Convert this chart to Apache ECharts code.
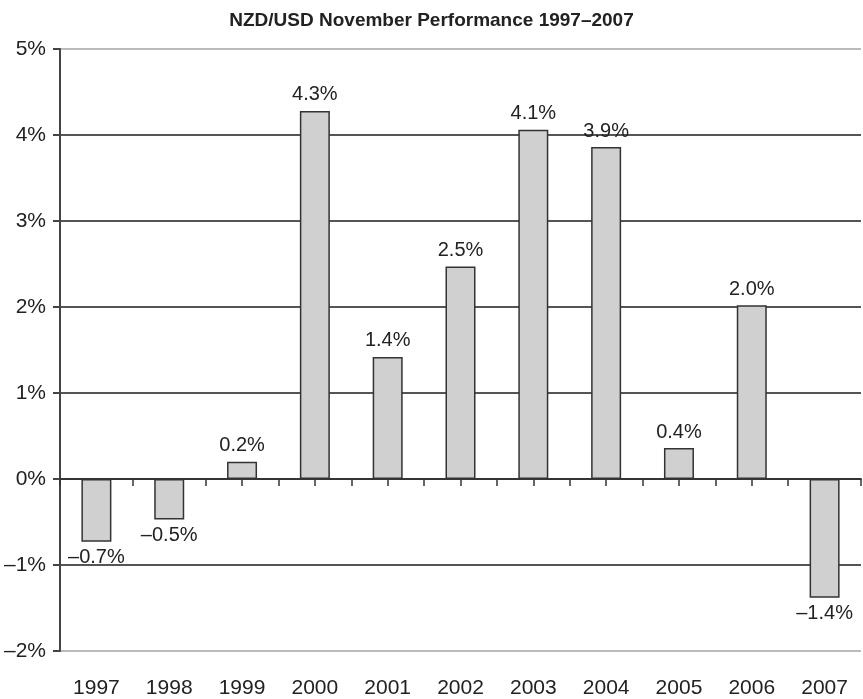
<!DOCTYPE html>
<html>
<head>
<meta charset="utf-8">
<script src="https://cdn.jsdelivr.net/npm/echarts@6/dist/echarts.min.js"></script>
<style>
  html, body { margin: 0; padding: 0; background: #fff; }
  #chart { width: 863px; height: 699px; }
</style>
</head>
<body>
<div id="chart"></div>
<script>
// 数据
var years = ['1997', '1998', '1999', '2000', '2001', '2002', '2003', '2004', '2005', '2006', '2007'];
var novPerf = [-0.73, -0.47, 0.2, 4.28, 1.42, 2.47, 4.06, 3.86, 0.36, 2.02, -1.38];
var titleText = 'NZD/USD November Performance 1997\u20132007';

var FONT = 'Liberation Sans, Arial, sans-serif';

function pct (v) {
    var s = Math.abs(v).toFixed(1) + '%';
    return v < 0 ? '\u2013' + s : s;
}

var chart = echarts.init(document.getElementById('chart'));

var barData = novPerf.map(function (v) {
    return {
        value: v,
        label: { position: v < 0 ? 'bottom' : 'top' }
    };
});

var hiddenAxisBase = {
    type: 'category',
    data: years,
    gridIndex: 0
};

var opt = {
    animation: false,
    title: {
        text: titleText,
        left: 'center',
        top: 6,
        textStyle: {
            fontFamily: FONT,
            fontWeight: 'bold',
            fontSize: 19,
            color: '#222'
        }
    },
    grid: {
        left: 60,
        right: 2,
        top: 49,
        bottom: 47
    },
    xAxis: [
        // 零线 + 分界刻度
        Object.assign({}, hiddenAxisBase, {
            position: 'bottom',
            axisLine: { onZero: true, lineStyle: { color: '#333', width: 1.5 } },
            axisTick: { show: true, interval: 0, length: 7, lineStyle: { color: '#333', width: 1.5 } },
            axisLabel: { show: false },
            splitLine: { show: false }
        }),
        // 居中刻度
        Object.assign({}, hiddenAxisBase, {
            position: 'bottom',
            axisLine: { show: true, onZero: true, onZeroAxisIndex: 0, lineStyle: { color: '#333', width: 1.5 } },
            axisTick: { show: true, interval: 0, alignWithLabel: true, length: 7, lineStyle: { color: '#333', width: 1.5 } },
            axisLabel: { show: false },
            splitLine: { show: false }
        }),
        // 底部年份标签
        Object.assign({}, hiddenAxisBase, {
            position: 'bottom',
            axisLine: { show: false, onZero: false },
            axisTick: { show: false },
            axisLabel: {
                interval: 0,
                margin: 27,
                fontSize: 21,
                color: '#222',
                fontFamily: FONT
            },
            splitLine: { show: false }
        })
    ],
    yAxis: {
        type: 'value',
        min: -2,
        max: 5,
        interval: 1,
        axisLine: { show: true, lineStyle: { color: '#444', width: 2 } },
        axisTick: { show: true, length: 7, lineStyle: { color: '#444', width: 2 } },
        axisLabel: {
            fontSize: 21,
            color: '#222',
            margin: 14,
            fontFamily: FONT,
            formatter: function (v) {
                return v < 0 ? '\u2013' + Math.abs(v) + '%' : v + '%';
            }
        },
        splitLine: {
            show: true,
            lineStyle: {
                color: ['#bbb', '#555', '#555', '#555', '#555', '#555', '#555', '#bbb'],
                width: 2
            }
        }
    },
    series: [{
        type: 'bar',
        xAxisIndex: 0,
        data: barData,
        barWidth: 30,
        itemStyle: {
            color: '#d0d0d0',
            borderColor: '#333',
            borderWidth: 1.5
        },
        label: {
            show: true,
            distance: 6,
            fontSize: 20,
            color: '#222',
            fontFamily: FONT,
            formatter: function (p) {
                return pct(p.value);
            }
        },
        z: 3
    }]
};

chart.setOption(opt);
</script>
</body>
</html>
